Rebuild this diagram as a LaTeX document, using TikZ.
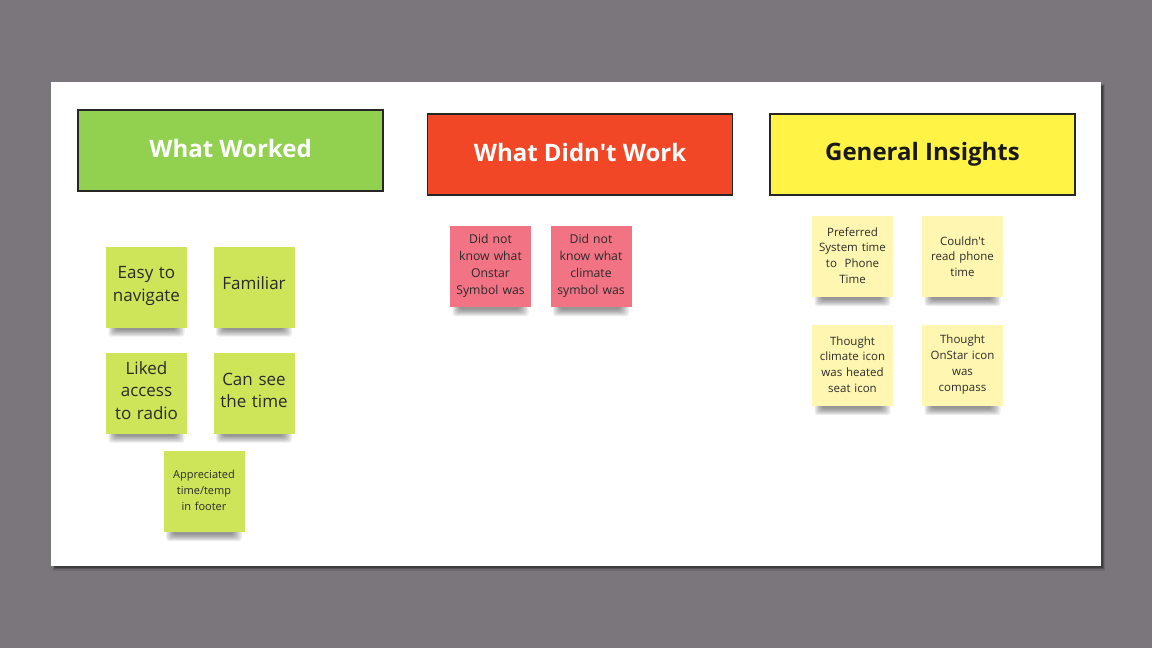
\documentclass[tikz,border=0pt]{standalone}
\usepackage{fontspec}
\setmainfont{Open Sans}[Ligatures=TeXOff]
\pgfdeclarelayer{bg}
\pgfdeclarelayer{shad}
\pgfsetlayers{bg,shad,main}
\newcommand\up[2]{\raisebox{#1}[\height][\depth]{\parbox{77pt}{\centering #2}}}
\newcommand\hup[2]{\raisebox{#1}[\height][\depth]{#2}}
\newcommand\stickshadow[1]{%
  \path (#1.south) coordinate (sc);
  \foreach \k in {0,...,6}{
    \fill[black, opacity=0.07, rounded corners=3pt]
      ([shift={(-38+\k*1.2,-6)}]sc) rectangle ([shift={(38-\k*1.5,9-\k*1.1)}]sc);
  }%
}
\definecolor{bggray}{HTML}{7A767C}
\definecolor{hgreen}{HTML}{92D14F}
\definecolor{hred}{HTML}{F24726}
\definecolor{hyellow}{HTML}{FFF445}
\definecolor{sgreen}{HTML}{CEE55A}
\definecolor{sred}{HTML}{F27383}
\definecolor{syellow}{HTML}{FFF7B1}
\definecolor{stext}{HTML}{2B2B2B}
\tikzset{
  header/.style={draw=black!85, line width=1.5pt, minimum width=305pt, minimum height=81pt, inner sep=0pt,
    font=\fontsize{24}{28}\selectfont\bfseries},
  sticky/.style={minimum width=81pt, minimum height=81pt, inner sep=2pt, text width=77pt, align=center,
    text=stext},
  big/.style={font=\fontsize{17}{22.5}\selectfont},
  mid/.style={font=\fontsize{12.2}{17}\selectfont},
  small/.style={font=\fontsize{11.5}{15.8}\selectfont},
  tiny/.style={font=\fontsize{11}{16}\selectfont},
}
\begin{document}
\begin{tikzpicture}[x=1pt,y=-1pt]
\begin{pgfonlayer}{bg}
\fill[bggray] (0,0) rectangle (1152,648);
\fill[black, opacity=0.12] (53,84) rectangle (1105,571);
\fill[black, opacity=0.2] (54,85) rectangle (1104,569);
\fill[black, opacity=0.25] (55,86) rectangle (1103,568);
\fill[white] (51,82) rectangle (1101,566);
\end{pgfonlayer}
\useasboundingbox (0,0) rectangle (1152,648);
% headers
\node[header, fill=hgreen, text=white] (h1) at (230.5,150.5) {\hup{2pt}{What Worked}};
\node[header, fill=hred, text=white] (h2) at (580,154.5) {\hup{2pt}{What Didn't Work}};
\node[header, fill=hyellow, text=black!90] (h3) at (922.5,154.5) {General Insights};
% green stickies
\node[sticky, big, fill=sgreen] (g1) at (146.5,287) {\up{1pt}{Easy to\\navigate}};
\node[sticky, big, fill=sgreen] (g2) at (254,287) {\up{4pt}{Familiar}};
\node[sticky, big, fill=sgreen] (g3) at (146.5,393) {\up{2.5pt}{Liked\\access\\to radio}};
\node[sticky, big, fill=sgreen] (g4) at (254,393) {\up{2.5pt}{Can see\\the time}};
\node[sticky, tiny, fill=sgreen] (g5) at (204,491.5) {\up{1pt}{Appreciated\\time/temp\\in footer}};
% red stickies
\node[sticky, mid, fill=sred] (r1) at (490.5,266.5) {\up{1pt}{Did not\\know what\\Onstar\\Symbol was}};
\node[sticky, mid, fill=sred] (r2) at (591,266.5) {\up{1pt}{Did not\\know what\\climate\\symbol was}};
% yellow stickies
\node[sticky, small, fill=syellow] (y1) at (852.5,256.5) {\up{1pt}{Preferred\\System time\\to~~Phone\\Time}};
\node[sticky, small, fill=syellow] (y2) at (962.5,256.5) {Couldn't\\read phone\\time};
\node[sticky, small, fill=syellow] (y3) at (852.5,365.5) {\up{1pt}{Thought\\climate icon\\was heated\\seat icon}};
\node[sticky, small, fill=syellow] (y4) at (962.5,365.5) {\up{1pt}{Thought\\OnStar icon\\was\\compass}};
% shadows
\begin{pgfonlayer}{shad}
\foreach \n in {g1,g2,g3,g4,g5,r1,r2,y1,y2,y3,y4}{\stickshadow{\n}}
\end{pgfonlayer}
\end{tikzpicture}
\end{document}
